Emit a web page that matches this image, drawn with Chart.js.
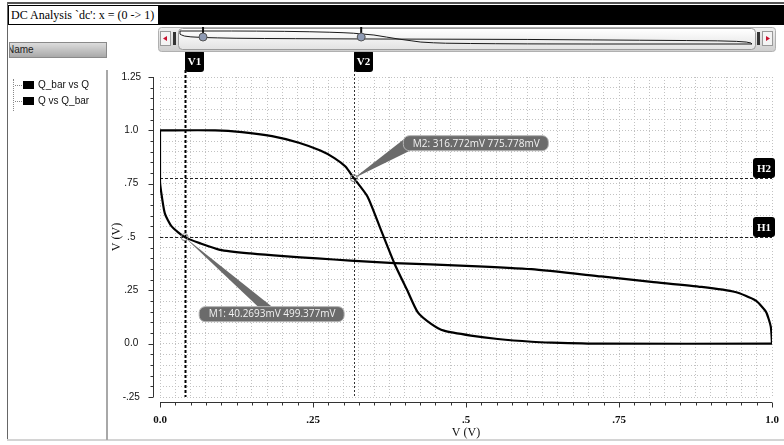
<!DOCTYPE html>
<html>
<head>
<meta charset="utf-8">
<script src="https://cdn.jsdelivr.net/npm/chart.js@4/dist/chart.umd.min.js"></script>
<style>
    html, body { margin: 0; padding: 0; background: #fff; }
    body { width: 784px; height: 445px; position: relative; overflow: hidden; font-family: "Liberation Sans", Arial, sans-serif; }
    #plot { position: absolute; left: 0; top: 0; width: 784px; height: 445px; }
    .chrome { position: absolute; z-index: 2; }
    #frameTop { left: 7px; top: 2px; width: 777px; height: 2px; background: #555; }
    #frameLeft { left: 7px; top: 2px; width: 1px; height: 438px; background: #666; }
    #frameBottom { left: 7px; top: 439px; width: 777px; height: 2px; background: #d4d4d4; }
    #titlebar { left: 8px; top: 5px; width: 776px; height: 20px; background: #000; }
    #titletab { left: 8px; top: 5px; height: 20px; background: #fff; color: #000; border: 1px solid #000; border-right: none;
        box-sizing: border-box; font: 12px "Liberation Serif", "Times New Roman", serif; line-height: 18px; padding: 0 4px 0 2px; white-space: pre; }
    #nameBtn { left: 9px; top: 42px; width: 98px; height: 16px; box-sizing: border-box; border: 1px solid #8a8a8a;
        background: linear-gradient(#dcdcdc, #a9a9a9); font-size: 10px; line-height: 14px; color: #222; overflow: hidden; text-indent: -3px; }
    #sep { left: 106px; top: 70px; width: 2px; height: 370px; background: #a8a8a8; }
    #legend { left: 13px; top: 79px; margin: 0; padding: 0; list-style: none; font-size: 10px; color: #111;
        border-left: 1px dotted #888; }
    #legend li { height: 16px; line-height: 12px; position: relative; padding-left: 24px; }
    #legend li::before { content: ""; position: absolute; left: 1px; top: 6px; width: 7px; border-top: 1px dotted #888; }
    #legend li span { position: absolute; left: 9px; top: 2px; width: 11px; height: 8px; background: #000; }
</style>
</head>
<body>
<canvas id="plot" width="784" height="445"></canvas>
<div class="chrome" id="frameTop"></div>
<div class="chrome" id="frameLeft"></div>
<div class="chrome" id="frameBottom"></div>
<div class="chrome" id="titlebar"></div>
<div class="chrome" id="titletab">DC Analysis `dc': x = (0 -&gt; 1)</div>
<div class="chrome" id="nameBtn">Name</div>
<div class="chrome" id="sep"></div>
<ul class="chrome" id="legend"></ul>
<script>
(function () {
    // traces (volts)
    const seriesNames = ['Q_bar vs Q', 'Q vs Q_bar'];
    const qbarX = [0, 0.09, 0.134, 0.183, 0.227, 0.262, 0.285, 0.303, 0.316772, 0.339, 0.361, 0.383, 0.404, 0.421, 0.443, 0.464, 0.508, 0.552, 0.607, 0.64, 0.72, 1.0];
    const qbarY = [1.0, 1.0, 0.992, 0.973, 0.942, 0.905, 0.87, 0.83, 0.775778, 0.69, 0.533, 0.376, 0.25, 0.148, 0.093, 0.061, 0.038, 0.022, 0.009, 0.005, 0.0, 0.0];
    const qX = [0, 0, 0.003, 0.008, 0.019, 0.0402693, 0.066, 0.098, 0.148, 0.202, 0.257, 0.311, 0.383, 0.5, 0.607, 0.721, 0.803, 0.885, 0.94, 0.973, 0.99, 0.998, 1.0];
    const qY = [1.0, 0.76, 0.69, 0.61, 0.55, 0.499377, 0.47, 0.44, 0.423, 0.41, 0.40, 0.389, 0.378, 0.365, 0.349, 0.315, 0.29, 0.266, 0.242, 0.203, 0.15, 0.08, 0.0];

    const xTickValues = [0, 0.25, 0.5, 0.75, 1];
    const xTickLabels = ['0.0', '.25', '.5', '.75', '1.0'];
    const yTickValues = [-0.25, 0, 0.25, 0.5, 0.75, 1, 1.25];
    const yTickLabels = ['-.25', '0.0', '.25', '.5', '.75', '1.0', '1.25'];

    // cursors and markers
    const markerNames = ['M1', 'M2'];
    const markerX = [0.0402693, 0.316772];
    const markerY = [0.499377, 0.775778];
    const vCursorNames = ['V1', 'V2'];
    const vCursorX = [0.0402693, 0.316772];
    const hCursorNames = ['H1', 'H2'];
    const hCursorY = [0.499377, 0.775778];

    // legend tree
    const legendEl = document.getElementById('legend');
    seriesNames.forEach(n => {
        const li = document.createElement('li');
        li.innerHTML = '<span></span>' + n;
        legendEl.appendChild(li);
    });

    const pickLabel = (vals, labels, v) => {
        const i = vals.findIndex(t => Math.abs(t - v) < 1e-9);
        return i < 0 ? '' : labels[i];
    };
    const isMajor = v => Math.abs(v * 4 - Math.round(v * 4)) < 1e-9;
    const toPts = (xs, ys) => xs.map((x, i) => ({ x, y: ys[i] }));

    function roundRect(ctx, x, y, w, h, r) {
        ctx.beginPath();
        ctx.moveTo(x + r, y);
        ctx.arcTo(x + w, y, x + w, y + h, r);
        ctx.arcTo(x + w, y + h, x, y + h, r);
        ctx.arcTo(x, y + h, x, y, r);
        ctx.arcTo(x, y, x + w, y, r);
        ctx.closePath();
    }

    const decor = {
        id: 'decor',
        beforeDatasetsDraw(chart) {
            const { ctx, chartArea: a, scales: { x: xs, y: ys } } = chart;
            ctx.save();
            // vertical cursors
            vCursorX.forEach((v, i) => {
                const px = Math.round(xs.getPixelForValue(v)) + 0.5;
                ctx.strokeStyle = i === 0 ? '#000' : '#333';
                ctx.lineWidth = i === 0 ? 2 : 1;
                ctx.setLineDash(i === 0 ? [3, 2] : [2, 2]);
                ctx.beginPath();
                ctx.moveTo(px, 70);
                ctx.lineTo(px, a.bottom);
                ctx.stroke();
            });
            // horizontal cursors
            hCursorY.forEach(v => {
                const py = Math.round(ys.getPixelForValue(v)) + 0.5;
                ctx.strokeStyle = '#222';
                ctx.lineWidth = 1;
                ctx.setLineDash([3, 2]);
                ctx.beginPath();
                ctx.moveTo(a.left, py);
                ctx.lineTo(a.right, py);
                ctx.stroke();
            });
            ctx.restore();
        },
        afterDatasetsDraw(chart) {
            const { ctx, chartArea: a, scales: { x: xs, y: ys } } = chart;
            ctx.save();

            // offset axis lines with ticks
            ctx.strokeStyle = '#333';
            ctx.lineWidth = 1;
            const ax = Math.round(a.left - 7) + 0.5;
            ctx.beginPath();
            ctx.moveTo(ax, a.top);
            ctx.lineTo(ax, a.bottom);
            ys.ticks.forEach(t => {
                const p = Math.round(ys.getPixelForValue(t.value)) + 0.5;
                ctx.moveTo(ax - (isMajor(t.value) ? 5 : 3), p);
                ctx.lineTo(ax, p);
            });
            const ay = Math.round(a.bottom + 5) + 0.5;
            ctx.moveTo(a.left, ay);
            ctx.lineTo(a.right, ay);
            xs.ticks.forEach(t => {
                const p = Math.round(xs.getPixelForValue(t.value)) + 0.5;
                ctx.moveTo(p, ay);
                ctx.lineTo(p, ay + (isMajor(t.value) ? 5 : 3));
            });
            ctx.stroke();

            // marker callouts
            ctx.font = '10px "Open Sans", sans-serif';
            markerNames.forEach((n, i) => {
                const mx = xs.getPixelForValue(markerX[i]);
                const my = ys.getPixelForValue(markerY[i]);
                const txt = `${n}: ${(markerX[i] * 1000).toPrecision(6)}mV ${(markerY[i] * 1000).toPrecision(6)}mV`;
                const w = Math.ceil(ctx.measureText(txt).width) + 18;
                const h = 15;
                let bx, by, wedge;
                if (i === 0) {
                    bx = mx + 14; by = my + 69;
                    wedge = [[mx + 74, by + 1], [mx + 88, by + 1]];
                } else {
                    bx = mx + 49; by = my - 43;
                    wedge = [[mx + 50, by + 4], [mx + 57, by + h]];
                }
                ctx.fillStyle = '#6b6b6b';
                ctx.beginPath();
                ctx.moveTo(mx, my);
                ctx.lineTo(wedge[0][0], wedge[0][1]);
                ctx.lineTo(wedge[1][0], wedge[1][1]);
                ctx.closePath();
                ctx.fill();
                roundRect(ctx, bx + 0.5, by + 0.5, w, h, 6);
                ctx.fill();
                ctx.strokeStyle = '#b4b4b4';
                ctx.stroke();
                ctx.fillStyle = '#f2f2f2';
                ctx.textAlign = 'left';
                ctx.textBaseline = 'middle';
                ctx.fillText(txt, bx + 10, by + h / 2 + 1);
                // marker ring
                ctx.strokeStyle = '#808080';
                ctx.beginPath();
                ctx.arc(mx, my, 3.5, 0, Math.PI * 2);
                ctx.stroke();
            });

            // cursor tags
            ctx.font = 'bold 11px "Liberation Serif", serif';
            ctx.textAlign = 'center';
            ctx.textBaseline = 'middle';
            vCursorNames.forEach((n, i) => {
                const px = Math.round(xs.getPixelForValue(vCursorX[i]));
                ctx.fillStyle = '#000';
                roundRect(ctx, px, 50, 19, 22, 3);
                ctx.fill();
                ctx.fillStyle = '#fff';
                ctx.fillText(n, px + 9.5, 62);
            });
            hCursorNames.forEach((n, i) => {
                const py = Math.round(ys.getPixelForValue(hCursorY[i]));
                ctx.fillStyle = '#000';
                roundRect(ctx, a.right - 19, py - 20, 22, 20, 3);
                ctx.fill();
                ctx.fillStyle = '#fff';
                ctx.fillText(n, a.right - 8, py - 9);
            });

            // overview scrollbar with miniature traces
            const g1 = ctx.createLinearGradient(0, 27, 0, 51);
            g1.addColorStop(0, '#f2f2f2');
            g1.addColorStop(1, '#cfcfcf');
            ctx.fillStyle = g1;
            roundRect(ctx, 158.5, 27.5, 617, 24, 3);
            ctx.fill();
            ctx.strokeStyle = '#b0b0b0';
            ctx.stroke();
            const g2 = ctx.createLinearGradient(0, 29, 0, 50);
            g2.addColorStop(0, '#ffffff');
            g2.addColorStop(1, '#e2e2e2');
            ctx.fillStyle = g2;
            roundRect(ctx, 178.5, 28.5, 577, 21, 4);
            ctx.fill();
            ctx.strokeStyle = '#9a9a9a';
            ctx.stroke();
            ctx.fillStyle = '#f4f4f4';
            ctx.fillRect(160.5, 31.5, 10, 14);
            ctx.fillRect(762.5, 31.5, 10, 14);
            ctx.strokeStyle = '#999';
            ctx.strokeRect(160.5, 31.5, 10, 14);
            ctx.strokeRect(762.5, 31.5, 10, 14);
            ctx.fillStyle = '#c8102e';
            ctx.beginPath();
            ctx.moveTo(163, 38.5); ctx.lineTo(167, 36); ctx.lineTo(167, 41); ctx.closePath();
            ctx.moveTo(770, 38.5); ctx.lineTo(766, 36); ctx.lineTo(766, 41); ctx.closePath();
            ctx.fill();
            ctx.fillStyle = '#333';
            ctx.fillRect(173, 32, 3, 13);
            ctx.fillRect(757, 32, 3, 13);
            const mxp = v => 180 + v * 572;
            const myp = v => 44 - v * 13;
            ctx.strokeStyle = '#1a1a1a';
            ctx.lineWidth = 1;
            [[qbarX, qbarY], [qX, qY]].forEach(([xa, ya]) => {
                ctx.beginPath();
                xa.forEach((v, k) => k ? ctx.lineTo(mxp(v), myp(ya[k])) : ctx.moveTo(mxp(v), myp(ya[k])));
                ctx.stroke();
            });
            vCursorX.forEach(v => {
                const px = mxp(v);
                ctx.strokeStyle = '#111';
                ctx.lineWidth = 2;
                ctx.beginPath();
                ctx.moveTo(px, 27); ctx.lineTo(px, 33);
                ctx.stroke();
                ctx.fillStyle = '#8e9ab4';
                ctx.strokeStyle = '#555';
                ctx.lineWidth = 1;
                ctx.beginPath();
                ctx.arc(px, 37, 4, 0, Math.PI * 2);
                ctx.fill();
                ctx.stroke();
            });
            ctx.restore();
        }
    };

    const canvas = document.getElementById('plot');
    if (!canvas) return;

    // fixed scale boxes, no label overhang padding, so the plot area lands where the original sits
    const fixBox = (w, h) => s => {
        if (w) s.width = w;
        if (h) s.height = h;
        s.paddingLeft = s.paddingRight = s.paddingTop = s.paddingBottom = 0;
    };

    new Chart(canvas, {
        type: 'scatter',
        data: {
            datasets: [
                { label: seriesNames[0], data: toPts(qbarX, qbarY) },
                { label: seriesNames[1], data: toPts(qX, qY) }
            ]
        },
        options: {
            responsive: false,
            animation: false,
            showLine: true,
            layout: { padding: { left: 100, right: 12, top: 77, bottom: 0 } },
            elements: {
                line: { borderColor: '#000', borderWidth: 2.2, tension: 0.2, fill: false },
                point: { radius: 0, hoverRadius: 0 }
            },
            plugins: { legend: { display: false }, tooltip: { enabled: false } },
            scales: {
                x: {
                    type: 'linear', min: 0, max: 1,
                    afterFit: fixBox(0, 48),
                    grid: { color: '#c2c2c2', drawTicks: false },
                    border: { display: false, dash: [1, 2] },
                    ticks: {
                        stepSize: 0.025, autoSkip: false, maxRotation: 0, padding: 17,
                        color: '#111', font: { family: '"Liberation Serif", serif', size: 11, weight: 'bold' },
                        callback: v => pickLabel(xTickValues, xTickLabels, v)
                    },
                    title: {
                        display: true, text: 'V (V)', color: '#111', padding: { top: 0, bottom: 5 },
                        font: { family: '"Liberation Serif", serif', size: 12 }
                    }
                },
                y: {
                    type: 'linear', min: -0.25, max: 1.25,
                    afterFit: fixBox(60, 0),
                    grid: { color: '#c2c2c2', drawTicks: false },
                    border: { display: false, dash: [1, 2] },
                    ticks: {
                        stepSize: 0.05, autoSkip: false, padding: 19, crossAlign: 'center',
                        color: '#111', font: { family: '"Liberation Sans", sans-serif', size: 10 },
                        callback: v => pickLabel(yTickValues, yTickLabels, v)
                    },
                    title: {
                        display: true, text: 'V (V)', color: '#111', padding: { top: 10, bottom: 0 },
                        font: { family: '"Liberation Serif", serif', size: 12 }
                    }
                }
            }
        },
        plugins: [decor]
    });
})();
</script>
</body>
</html>
